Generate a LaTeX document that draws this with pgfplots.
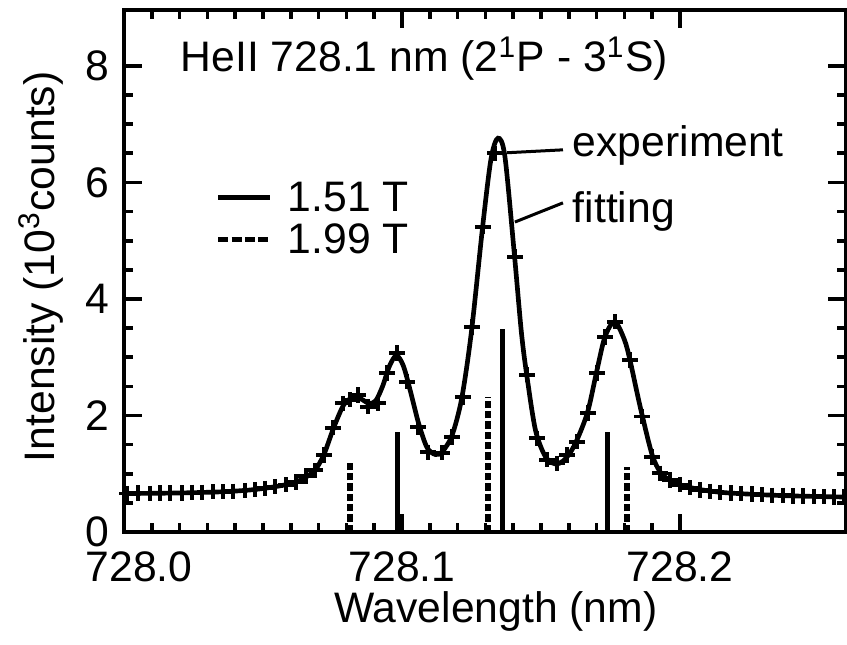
\documentclass[border=0pt]{standalone}
\usepackage{pgfplots}
\pgfplotsset{compat=1.18}
\usepackage{fontspec}
\setmainfont{Liberation Sans}

% measured spectrum (markers)
\pgfplotstableread{
x y
728.0011 0.66
728.0050 0.67
728.0094 0.66
728.0129 0.67
728.0165 0.67
728.0209 0.67
728.0245 0.68
728.0281 0.68
728.0320 0.69
728.0356 0.69
728.0392 0.70
728.0435 0.71
728.0471 0.73
728.0507 0.75
728.0543 0.78
728.0583 0.81
728.0619 0.86
728.0655 0.96
728.0687 1.06
728.0719 1.32
728.0752 1.79
728.0788 2.21
728.0813 2.27
728.0842 2.35
728.0878 2.15
728.0914 2.21
728.0946 2.73
728.0982 3.07
728.1018 2.58
728.1058 1.80
728.1094 1.37
728.1144 1.36
728.1180 1.63
728.1219 2.32
728.1252 3.52
728.1291 5.24
728.1335 6.50
728.1406 4.72
728.1450 2.70
728.1486 1.61
728.1522 1.24
728.1558 1.18
728.1594 1.32
728.1629 1.55
728.1669 2.04
728.1701 2.73
728.1730 3.35
728.1766 3.61
728.1820 2.95
728.1863 1.98
728.1899 1.29
728.1928 1.01
728.1964 0.89
728.2000 0.81
728.2036 0.76
728.2072 0.72
728.2108 0.70
728.2144 0.68
728.2183 0.67
728.2219 0.66
728.2259 0.65
728.2295 0.64
728.2331 0.63
728.2371 0.63
728.2406 0.62
728.2442 0.62
728.2482 0.61
728.2518 0.61
728.2554 0.60
728.2590 0.60
}\expdata

% fitted profile
\pgfplotstableread{
x y
728.000 0.66
728.020 0.67
728.035 0.69
728.045 0.72
728.052 0.76
728.058 0.81
728.062 0.86
728.066 0.96
728.069 1.08
728.072 1.34
728.0755 1.80
728.079 2.18
728.082 2.30
728.085 2.29
728.088 2.21
728.0905 2.25
728.093 2.50
728.0955 2.85
728.098 3.03
728.1005 2.85
728.103 2.42
728.106 1.86
728.109 1.45
728.112 1.33
728.1145 1.38
728.118 1.66
728.1215 2.30
728.125 3.45
728.129 5.24
728.132 6.40
728.1345 6.76
728.137 6.45
728.1405 4.72
728.143 3.40
728.145 2.65
728.148 1.75
728.1515 1.30
728.155 1.17
728.158 1.22
728.161 1.40
728.164 1.70
728.167 2.10
728.170 2.75
728.173 3.35
728.1765 3.61
728.180 3.30
728.182 2.95
728.1845 2.40
728.1865 1.98
728.190 1.32
728.193 1.02
728.196 0.90
728.200 0.81
728.207 0.73
728.215 0.68
728.225 0.65
728.240 0.62
728.260 0.60
}\fitdata

\begin{document}
\fontsize{12.8}{15}\selectfont
\begin{tikzpicture}
\useasboundingbox (-37.2pt,-33.6pt) rectangle (216.9pt,159.6pt);
\begin{axis}[
  at={(0pt,0pt)}, anchor=south west,
  scale only axis, width=216.6pt, height=156.6pt,
  xmin=728.0, xmax=728.2597, ymin=0, ymax=8.96,
  xtick={728.0,728.1,728.2},
  xticklabels={\hspace*{9pt}728.0,728.1,728.2},
  every tick label/.append style={inner sep=1pt},
  xticklabel style={yshift=-4.8pt},
  yticklabel style={xshift=-3.3pt},
  minor x tick num=9,
  ytick={0,2,4,6,8},
  yticklabels={0,2,4,6,8},
  minor y tick num=3,
  tick align=inside,
  xtick pos=both, ytick pos=both,
  major tick length=5.3pt, minor tick length=2.7pt,
  every tick/.style={line width=1.1pt, black},
  axis line style={line width=1.3pt},
  xlabel={Wavelength (nm)},
  ylabel={Intensity (10\textsuperscript{3}counts)},
  xlabel style={at={(axis description cs:0.515,-0.153)}, anchor=center},
  ylabel style={at={(axis description cs:-0.115,0.508)}, anchor=center},
  legend style={draw=none, fill=none, inner sep=0pt,
    at={(axis description cs:0.126,0.674)}, anchor=north west,
    nodes={inner sep=0pt, text height=9.2pt, text depth=0pt},
    row sep=3.4pt},
  legend cell align=left,
]
% Zeeman components, 1.51 T
\addplot[ycomb, black, line width=1.5pt,
  legend image code/.code={\draw[black, line width=1.5pt] (0pt,-0.3pt) -- (15.6pt,-0.3pt);}]
  coordinates {(728.0982,1.72) (728.1363,3.48) (728.1740,1.72)};
\addlegendentry{\hspace*{4.5pt}1.51 T}
% Zeeman components, 1.99 T
\addplot[ycomb, black, line width=1.7pt, dash pattern=on 2.2pt off 0.9pt,
  legend image code/.code={\draw[black, line width=1.6pt, dash pattern=on 3pt off 1pt] (0pt,-0.3pt) -- (15.6pt,-0.3pt);}]
  coordinates {(728.0813,1.18) (728.1310,2.32) (728.1810,1.12)};
\addlegendentry{\hspace*{4.5pt}1.99 T}

\addplot[black, line width=1.4pt, smooth, no marks, forget plot] table {\fitdata};
\addplot[black, only marks, mark=+, mark size=2.3pt,
  mark options={line width=1.1pt}, forget plot] table {\expdata};

\node[anchor=base west, inner sep=0pt] at (axis cs:728.0202,7.90)
  {HeII 728.1 nm (2\textsuperscript{1}P - 3\textsuperscript{1}S)};
\draw[line width=0.9pt] (axis cs:728.1378,6.51) -- (axis cs:728.1579,6.56);
\node[anchor=base west, inner sep=0pt] at (axis cs:728.1612,6.44) {experiment};
\draw[line width=0.9pt] (axis cs:728.1406,5.32) -- (axis cs:728.1579,5.65);
\node[anchor=base west, inner sep=0pt] at (axis cs:728.1612,5.32) {fitting};
\end{axis}
\end{tikzpicture}
\end{document}
